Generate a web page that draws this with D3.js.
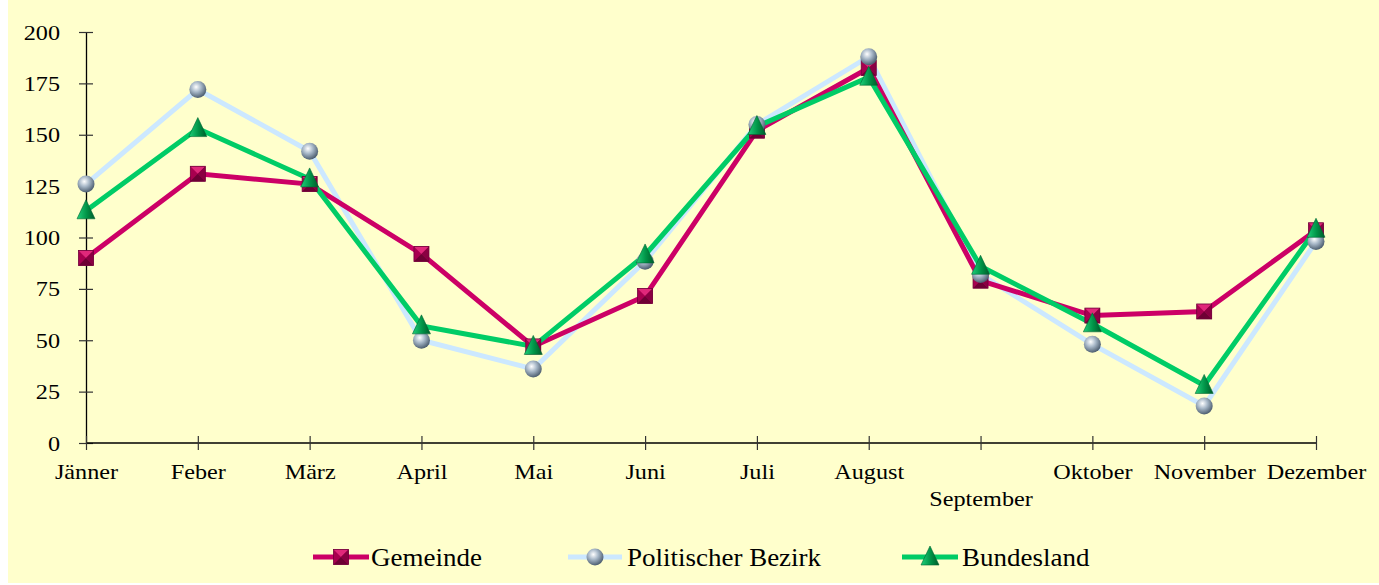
<!DOCTYPE html>
<html>
<head>
<meta charset="utf-8">
<script src="https://cdn.jsdelivr.net/npm/d3@7"></script>
<style>
  body { margin: 0; background: #fff; }
  svg { display: block; }
  text { font-family: "Liberation Serif", "Times New Roman", serif; fill: #000; }
</style>
</head>
<body>
<script>
const months = ["Jänner", "Feber", "März", "April", "Mai", "Juni", "Juli", "August", "September", "Oktober", "November", "Dezember"];
const gemeinde = [90, 131, 126, 92, 47, 71.5, 152, 182.5, 79, 62, 64, 103.5];
const bezirk = [126, 172, 142, 50, 36, 88.5, 155, 188, 82, 48, 18, 98];
const bundesland = [113, 153, 128.5, 57, 47, 91.5, 154, 178, 86, 58, 28, 104];
const yTicks = [0, 25, 50, 75, 100, 125, 150, 175, 200];

const W = 1379, H = 585;
const stretch = 1.1; // the original text is a bit wider than Liberation Serif
const svg = d3.select("body").append("svg").attr("width", W).attr("height", H);

// gradients for the shaded markers
const defs = svg.append("defs");
const sph = defs.append("radialGradient").attr("id", "sphere").attr("cx", "40%").attr("cy", "35%").attr("r", "65%");
sph.append("stop").attr("offset", "0%").attr("stop-color", "#ffffff");
sph.append("stop").attr("offset", "45%").attr("stop-color", "#a9b9c9");
sph.append("stop").attr("offset", "100%").attr("stop-color", "#4d5e70");
const tri = defs.append("linearGradient").attr("id", "tri").attr("x1", "0").attr("x2", "1").attr("y1", "0").attr("y2", "0");
tri.append("stop").attr("offset", "0%").attr("stop-color", "#1fd07a");
tri.append("stop").attr("offset", "55%").attr("stop-color", "#009246");
tri.append("stop").attr("offset", "100%").attr("stop-color", "#005a2a");

svg.append("rect").attr("x", 8).attr("y", 0).attr("width", W - 8).attr("height", H - 2).attr("fill", "#ffffcc");

const x = d3.scalePoint().domain(months).range([86, 1316]);
const y = d3.scaleLinear().domain([0, 200]).range([443, 32]);

// y axis
const yAxis = svg.append("g").attr("transform", "translate(86,0)")
  .call(d3.axisLeft(y).tickValues(yTicks).tickSize(7).tickPadding(16).tickSizeOuter(0));
yAxis.select(".domain").attr("stroke", "#000").attr("stroke-width", 1.3);
yAxis.selectAll(".tick line").attr("stroke", "#333").attr("x2", 7).attr("x1", -7).attr("stroke-width", 1.2);
yAxis.selectAll(".tick text").attr("font-size", 22).attr("fill", "#000")
  .attr("x", -26 / stretch).attr("transform", `scale(${stretch},1)`);

// x axis
const xAxis = svg.append("g").attr("transform", "translate(0,443)")
  .call(d3.axisBottom(x).tickSize(7).tickPadding(13).tickSizeOuter(0));
xAxis.select(".domain").attr("stroke", "#000").attr("stroke-width", 1.3).attr("d", "M86,0H1316");
xAxis.selectAll(".tick line").attr("stroke", "#333").attr("y1", -7).attr("y2", 7).attr("stroke-width", 1.2);
xAxis.selectAll(".tick text").attr("font-size", 22).attr("fill", "#000")
  .attr("transform", `scale(${stretch},1)`)
  .attr("dy", (d, i) => i === 8 ? "1.95em" : "0.71em");

const series = [
  { name: "Gemeinde", values: gemeinde, color: "#cc0066", marker: "square" },
  { name: "Politischer Bezirk", values: bezirk, color: "#cce8ff", marker: "sphere" },
  { name: "Bundesland", values: bundesland, color: "#00cc66", marker: "triangle" }
];

const line = d3.line().x((d, i) => x(months[i])).y(d => y(d));

const lineOrder = [series[1], series[0], series[2]];
svg.selectAll(".series")
  .data(lineOrder)
  .enter()
  .append("path")
  .attr("d", s => line(s.values))
  .attr("fill", "none")
  .attr("stroke", s => s.color)
  .attr("stroke-width", 5)
  .attr("stroke-linejoin", "miter");

function drawMarker(g, type, cx, cy) {
  if (type === "square") {
    const s = 7.5;
    g.append("rect").attr("x", cx - s).attr("y", cy - s).attr("width", 2 * s).attr("height", 2 * s).attr("fill", "#a8004f");
    g.append("path").attr("d", `M${cx - s},${cy - s}L${cx + s},${cy - s}L${cx},${cy}Z`).attr("fill", "#e0287a");
    g.append("path").attr("d", `M${cx - s},${cy + s}L${cx + s},${cy + s}L${cx},${cy}Z`).attr("fill", "#6e0034");
    g.append("path").attr("d", `M${cx + s},${cy - s}L${cx + s},${cy + s}L${cx},${cy}Z`).attr("fill", "#8a0042");
    g.append("rect").attr("x", cx - s).attr("y", cy - s).attr("width", 2 * s).attr("height", 2 * s)
      .attr("fill", "none").attr("stroke", "#70003a").attr("stroke-width", 0.8);
  } else if (type === "sphere") {
    g.append("circle").attr("cx", cx).attr("cy", cy).attr("r", 8.5).attr("fill", "url(#sphere)");
  } else {
    const h = 9;
    g.append("path").attr("d", `M${cx},${cy - h - 2}L${cx + h},${cy + h - 1}L${cx - h},${cy + h - 1}Z`).attr("fill", "url(#tri)")
      .attr("stroke", "#006633").attr("stroke-width", 0.6);
  }
}

series.forEach(s => {
  const g = svg.append("g");
  s.values.forEach((v, i) => drawMarker(g, s.marker, x(months[i]), y(v)));
});

// legend
const legendItems = [
  { s: series[0], x0: 313, x1: 369, tx: 371 },
  { s: series[1], x0: 568, x1: 622, tx: 627 },
  { s: series[2], x0: 902, x1: 958, tx: 962 }
];
const ly = 557;
legendItems.forEach(it => {
  const g = svg.append("g");
  g.append("line").attr("x1", it.x0).attr("x2", it.x1).attr("y1", ly).attr("y2", ly)
    .attr("stroke", it.s.color).attr("stroke-width", 5);
  drawMarker(g, it.s.marker, (it.x0 + it.x1) / 2, ly);
  g.append("text").attr("transform", `translate(${it.tx},${ly}) scale(1.08,1)`)
    .attr("dy", "0.35em").attr("font-size", 25).text(it.s.name);
});
</script>
</body>
</html>
